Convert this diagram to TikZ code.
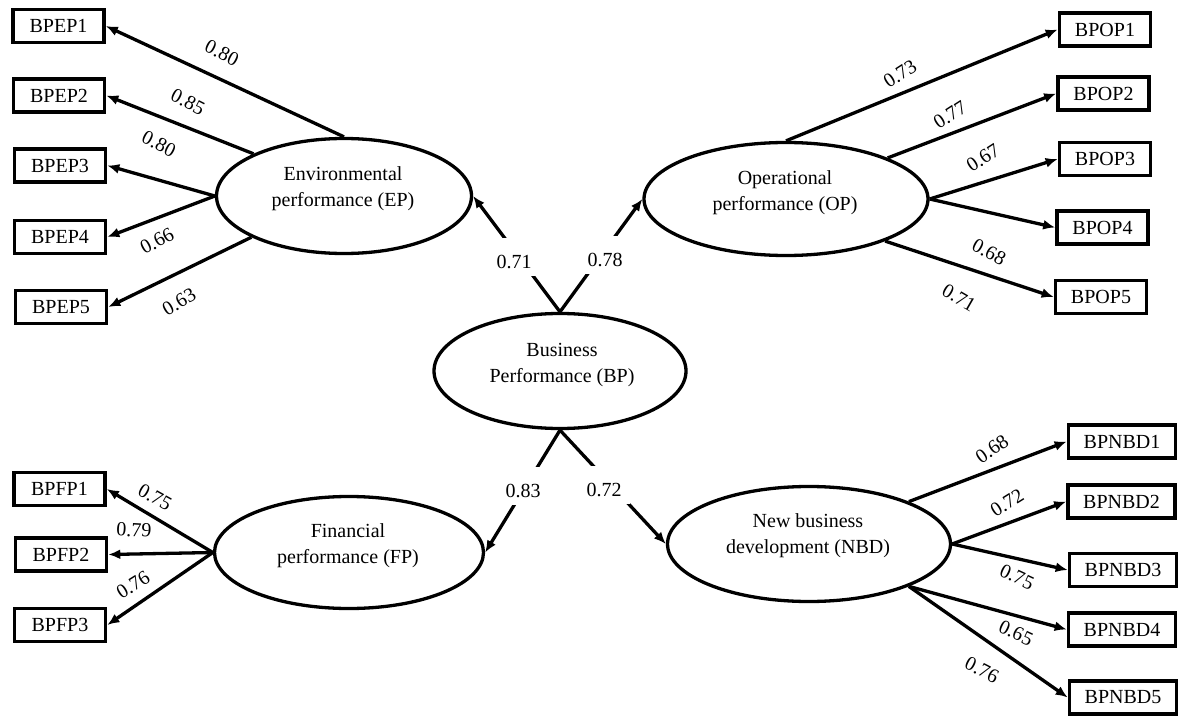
\documentclass[tikz,border=0pt]{standalone}
\usepackage{fontspec}
\setmainfont{Liberation Serif}
\usetikzlibrary{shapes.geometric,arrows.meta}
\begin{document}
\begin{tikzpicture}[x=1pt,y=-1pt,
 ind/.style={draw,line width=3.6pt,minimum width=91pt,minimum height=33pt,inner sep=0pt,font=\fontsize{20}{24}\selectfont},
 indw/.style={ind,minimum width=107pt},
 lat/.style={draw,ellipse,line width=3.3pt,inner sep=0pt},
 lattext/.style={align=center,font=\fontsize{20}{26}\selectfont,inner sep=0pt},
 arr/.style={line width=3.3pt,-{Latex[length=12pt,width=10pt]}},
 ld/.style={font=\fontsize{20}{24}\selectfont,inner sep=1pt},
 pl/.style={font=\fontsize{20}{24}\selectfont,fill=white,inner xsep=8pt,text height=30pt,text depth=8pt,inner ysep=0pt,anchor=base},
]
\useasboundingbox[fill=white] (0,0) rectangle (1187,717);

% latent variables
\node[lat,minimum width=255pt,minimum height=115pt] (EP) at (344,196) {};
\node[lat,minimum width=284pt,minimum height=113pt] (OP) at (786,199) {};
\node[lat,minimum width=252pt,minimum height=115pt] (BP) at (560,371) {};
\node[lat,minimum width=269pt,minimum height=112pt] (FP) at (349,552.5) {};
\node[lat,minimum width=283pt,minimum height=115pt] (NBD) at (809,544) {};
\node[lattext] (EPt) at (343,189) {Environmental\\performance (EP)};
\node[lattext] (OPt) at (785,192.5) {Operational\\performance (OP)};
\node[lattext] (BPt) at (562,365.5) {Business\\Performance (BP)};
\node[lattext] (FPt) at (348,546) {Financial\\performance (FP)};
\node[lattext] (NBDt) at (808,536) {New business\\development (NBD)};

% indicators
\node[ind] (BPEP1) at (58.5,26) {BPEP1};
\node[ind] (BPEP2) at (59,95.5) {BPEP2};
\node[ind] (BPEP3) at (60,165.5) {BPEP3};
\node[ind] (BPEP4) at (60,237) {BPEP4};
\node[ind] (BPEP5) at (61,307) {BPEP5};
\node[ind] (BPFP1) at (59.5,489) {BPFP1};
\node[ind] (BPFP2) at (61,554.5) {BPFP2};
\node[ind] (BPFP3) at (60,625) {BPFP3};
\node[ind] (BPOP1) at (1105,29.5) {BPOP1};
\node[ind] (BPOP2) at (1103.5,93.5) {BPOP2};
\node[ind] (BPOP3) at (1105,159) {BPOP3};
\node[ind] (BPOP4) at (1102.5,227.5) {BPOP4};
\node[ind] (BPOP5) at (1101,297) {BPOP5};
\node[indw] (BPNBD1) at (1122,441.5) {BPNBD1};
\node[indw] (BPNBD2) at (1121.5,501.5) {BPNBD2};
\node[indw] (BPNBD3) at (1123,570) {BPNBD3};
\node[indw] (BPNBD4) at (1122,629.5) {BPNBD4};
\node[indw] (BPNBD5) at (1123,697.5) {BPNBD5};

% EP loadings
\draw[arr] (EP.north) -- (BPEP1.east);
\draw[arr] (EP.155) -- (BPEP2.east);
\draw[arr] (EP.west) -- (BPEP3.east);
\draw[arr] (EP.west) -- (BPEP4.east);
\draw[arr] (EP.204.5) -- (BPEP5.east);
\node[ld,rotate=-27] (lEP1) at (222,53) {0.80};
\node[ld,rotate=-27] (lEP2) at (188,102) {0.85};
\node[ld,rotate=-27] (lEP3) at (159,144) {0.80};
\node[ld,rotate=28] (lEP4) at (157,241) {0.66};
\node[ld,rotate=30] (lEP5) at (179,302) {0.63};

% OP loadings
\draw[arr] (OP.north) -- (BPOP1.west);
\draw[arr] (OP.22.4) -- (BPOP2.west);
\draw[arr] (OP.east) -- (BPOP3.west);
\draw[arr] (OP.east) -- (BPOP4.west);
\draw[arr] (OP.-23.5) -- (BPOP5.west);
\node[ld,rotate=33] (lOP1) at (900,74) {0.73};
\node[ld,rotate=33] (lOP2) at (950,115) {0.77};
\node[ld,rotate=33] (lOP3) at (983,158) {0.67};
\node[ld,rotate=-28] (lOP4) at (989,252) {0.68};
\node[ld,rotate=-30] (lOP5) at (959,298) {0.71};

% FP loadings
\draw[arr] (FP.west) -- (BPFP1.east);
\draw[arr] (FP.west) -- (BPFP2.east);
\draw[arr] (FP.west) -- (BPFP3.east);
\node[ld,rotate=-29] (lFP1) at (155,497) {0.75};
\node[ld,rotate=-3] (lFP2) at (134,530) {0.79};
\node[ld,rotate=32] (lFP3) at (133,585) {0.76};

% NBD loadings
\draw[arr] (NBD.23.1) -- (BPNBD1.west);
\draw[arr] (NBD.east) -- (BPNBD2.west);
\draw[arr] (NBD.east) -- (BPNBD3.west);
\draw[arr] (NBD.-23.1) -- (BPNBD4.west);
\draw[arr] (NBD.-23.1) -- (BPNBD5.west);
\node[ld,rotate=35] (lNBD1) at (992,449) {0.68};
\node[ld,rotate=32] (lNBD2) at (1007,503) {0.72};
\node[ld,rotate=-25] (lNBD3) at (1017,577) {0.75};
\node[ld,rotate=-25] (lNBD4) at (1016,633) {0.65};
\node[ld,rotate=-27] (lNBD5) at (982,670) {0.76};

% second-order paths
\draw[arr] (BP.north) -- (EP.east);
\draw[arr] (BP.north) -- (OP.west);
\draw[arr] (BP.south) -- (FP.east);
\draw[arr] (BP.south) -- (NBD.west);
\node[pl] (l071) at (514,268) {0.71};
\node[pl] (l078) at (605,266) {0.78};
\node[pl] (l083) at (523,497) {0.83};
\node[pl] (l072) at (604,496) {0.72};
\end{tikzpicture}
\end{document}
